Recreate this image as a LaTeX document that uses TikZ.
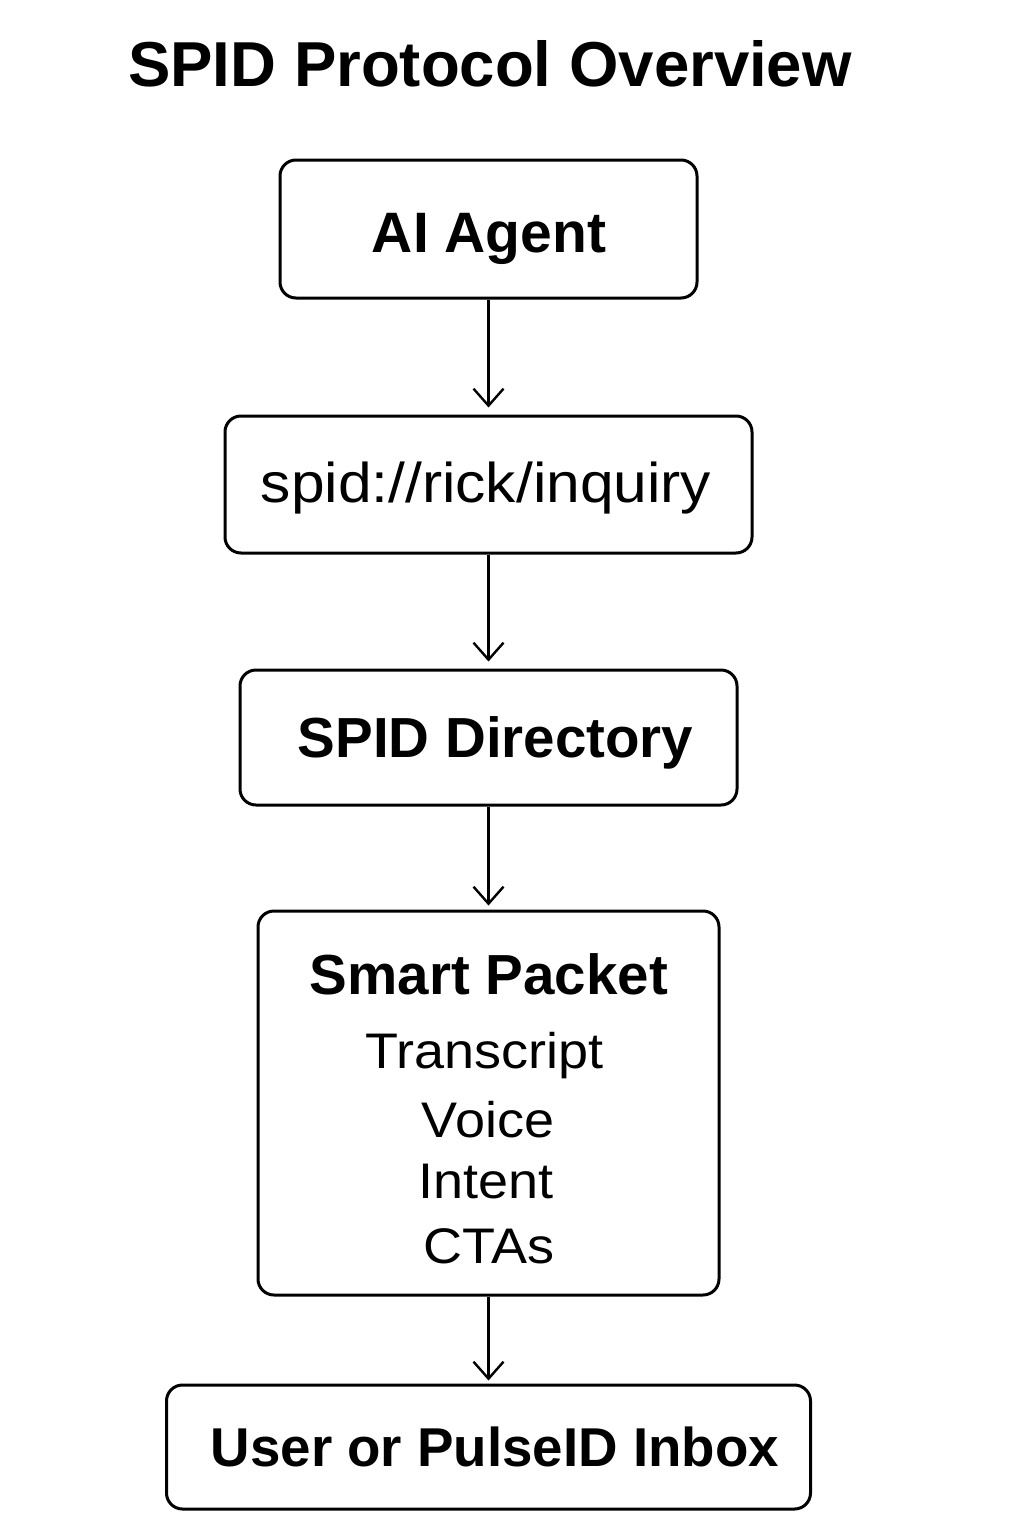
\documentclass[tikz,border=0pt]{standalone}
\usepackage{fontspec}
\setmainfont{Liberation Sans}
\newfontfamily\regfont[FakeStretch=1.08]{Liberation Sans}
\usetikzlibrary{arrows.meta}
\tikzset{
  x=1pt, y=-1pt,
  box/.style={draw=black, line width=3pt, rounded corners=16pt, fill=white, inner sep=0pt},
  boldtxt/.style={anchor=base, inner sep=0pt, font=\bfseries\fontsize{#1pt}{#1pt}\selectfont},
  regtxt/.style={anchor=base, inner sep=0pt, font=\regfont\fontsize{#1pt}{#1pt}\selectfont},
  arr/.style={draw=black, line width=2.4pt, -{Straight Barb[length=17pt,width=30pt,line width=2.4pt]}}
}
\begin{document}
\begin{tikzpicture}
\useasboundingbox[fill=white] (0,0) rectangle (1024,1536);
% title
\node[boldtxt=63.5] (title) at (490,87) {SPID Protocol Overview};
% boxes
\node[box, minimum width=417pt, minimum height=138pt] (agent) at (488.5,229) {};
\node[box, minimum width=527pt, minimum height=137pt] (spid) at (488.5,484.5) {};
\node[box, minimum width=497pt, minimum height=135pt] (dir) at (488.5,737.5) {};
\node[box, minimum width=461pt, minimum height=384pt] (packet) at (488.5,1103) {};
\node[box, minimum width=644pt, minimum height=124pt] (user) at (488.5,1447) {};
% texts
\node[boldtxt=57] (agenttxt) at (489,252) {AI Agent};
\node[regtxt=56] (spidtxt) at (486,502) {spid://rick/inquiry};
\node[boldtxt=56.5] (dirtxt) at (495.5,757) {SPID Directory};
\node[boldtxt=56.5] (packettxt) at (489,994) {Smart Packet};
\node[regtxt=50] (t1) at (484.5,1068) {Transcript};
\node[regtxt=50] (t2) at (488,1137) {Voice};
\node[regtxt=50] (t3) at (486,1198) {Intent};
\node[regtxt=50] (t4) at (489,1263) {CTAs};
\node[boldtxt=54.7] (usertxt) at (495,1466) {User or PulseID Inbox};
% connectors
\draw[arr, shorten >=7pt] (agent.south) -- (spid.north);
\draw[arr, shorten >=7pt] (spid.south) -- (dir.north);
\draw[arr, shorten >=4pt] (dir.south) -- (packet.north);
\draw[arr, shorten >=3pt] (packet.south) -- (user.north);
\end{tikzpicture}
\end{document}
